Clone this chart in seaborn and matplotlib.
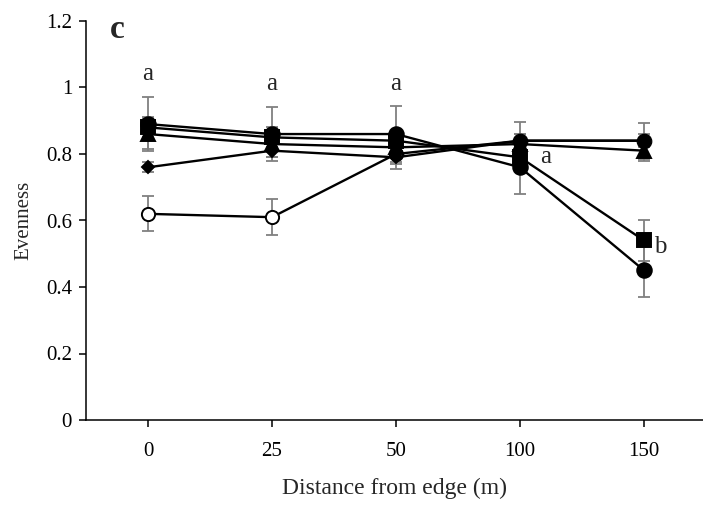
import matplotlib
matplotlib.use("Agg")
import matplotlib.pyplot as plt
import seaborn as sns
import numpy as np
import pandas as pd

categories = ["0", "25", "50", "100", "150"]

circle_vals = [0.89, 0.86, 0.86, 0.76, 0.45]
circle_err = [0.08, 0.08, 0.085, 0.08, 0.08]
square_vals = [0.88, 0.85, 0.84, 0.79, 0.54]
square_err = [0.03, 0.03, 0.03, 0.03, 0.063]
triangle_vals = [0.86, 0.83, 0.82, 0.83, 0.81]
triangle_err = [0.045, 0.04, 0.03, 0.03, 0.03]
diamond_vals = [0.76, 0.81, 0.79, 0.84, 0.84]
diamond_err = [0.015, 0.02, 0.02, 0.02, 0.02]
open_vals = [0.62, 0.61, 0.80, 0.84, 0.84]
open_err = [0.053, 0.055, 0.045, 0.055, 0.054]

yticks = [0, 0.2, 0.4, 0.6, 0.8, 1.0, 1.2]
yticklabels = ["0", "0.2", "0.4", "0.6", "0.8", "1", "1.2"]

top_letters = ["a", "a", "a"]
top_letter_y = [1.04, 1.01, 1.01]

sns.set_style("ticks")
plt.rcParams["font.family"] = ["Liberation Serif", "DejaVu Serif"]

fig = plt.figure(figsize=(7.03, 5.08), dpi=100)
ax = fig.add_axes([86 / 703, 88 / 508, 617 / 703, 399 / 508])

x = np.arange(len(categories))

series = [
    (open_vals, open_err, "o", "white", 9.5),
    (diamond_vals, diamond_err, "D", "black", 6.5),
    (triangle_vals, triangle_err, "^", "black", 9.5),
    (square_vals, square_err, "s", "black", 9.5),
    (circle_vals, circle_err, "o", "black", 10.5),
]

for vals, err, mk, fc, ms in series:
    ax.errorbar(x, vals, yerr=err, fmt="none", ecolor="#808080",
                elinewidth=1.3, capsize=4.5, capthick=1.3, zorder=1)

for i, (vals, err, mk, fc, ms) in enumerate(series):
    df = pd.DataFrame({"x": x, "y": vals})
    if i == 0:
        sns.lineplot(data=df, x="x", y="y", ax=ax, color="black", linewidth=1.7,
                     marker=mk, markersize=ms, markerfacecolor=fc,
                     markeredgecolor="black", markeredgewidth=1.4,
                     markevery=[0, 1, 2], zorder=2)
    else:
        sns.lineplot(data=df, x="x", y="y", ax=ax, color="black", linewidth=1.7,
                     marker=mk, markersize=ms, markerfacecolor=fc,
                     markeredgecolor="black", markeredgewidth=1.4,
                     zorder=2 + i)

df_end = pd.DataFrame({"x": x[3:], "y": open_vals[3:]})
sns.scatterplot(data=df_end, x="x", y="y", ax=ax, color="black", s=110,
                marker="o", edgecolor="black", zorder=8, legend=False)

ax.set_xlim(-0.5, -0.5 + 617 / 124)
ax.set_ylim(0, 1.2)
ax.set_xticks(x)
ax.set_xticklabels(categories)
ax.set_yticks(yticks)
ax.set_yticklabels(yticklabels)
ax.tick_params(axis="both", labelsize=15, length=5, width=1.1,
               direction="out", colors="black")
ax.tick_params(axis="x", pad=11)
ax.tick_params(axis="y", pad=5)
for s in ["top", "right"]:
    ax.spines[s].set_visible(False)
for s in ["left", "bottom"]:
    ax.spines[s].set_linewidth(1.1)
    ax.spines[s].set_color("black")

ax.set_xlabel("Distance from edge (m)", fontsize=17, labelpad=12)
ax.set_ylabel("Evenness", fontsize=15, labelpad=9)

for xi, (lt, ly) in enumerate(zip(top_letters, top_letter_y)):
    ax.text(xi, ly, lt, ha="center", va="center", fontsize=18)
ax.text(3.21, 0.79, "a", ha="center", va="center", fontsize=18)
ax.text(4.13, 0.52, "b", ha="center", va="center", fontsize=18)
ax.text(-0.25, 1.175, "c", ha="center", va="center", fontsize=24, fontweight="bold")

fig.savefig("out.png", dpi=100)
